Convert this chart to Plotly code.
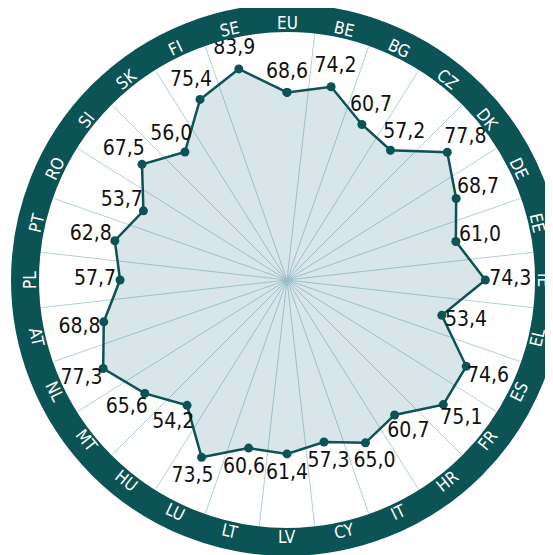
import math
import plotly.graph_objects as go

countries = ["EU", "BE", "BG", "CZ", "DK", "DE", "EE", "IE", "EL", "ES",
             "FR", "HR", "IT", "CY", "LV", "LT", "LU", "HU", "MT", "NL",
             "AT", "PL", "PT", "RO", "SI", "SK", "FI", "SE"]
values = [68.6, 74.2, 60.7, 57.2, 77.8, 68.7, 61.0, 74.3, 53.4, 74.6,
          75.1, 60.7, 65.0, 57.3, 61.4, 60.6, 73.5, 54.2, 65.6, 77.3,
          68.8, 57.7, 62.8, 53.7, 67.5, 56.0, 75.4, 83.9]

TEAL = "#0b5354"
GRID = "#b3cfd6"
FONT = "DejaVu Sans Condensed, Liberation Sans Narrow, Roboto, sans-serif"

W, H = 553, 555
# the page body has an 8px margin, so positions are shifted by 8px
CX, CY = 287 - 8, H - (280 - 8)   # centre in px (y from bottom)
R_PLOT = 247               # radius of the polar area
R_MIN, R_MAX = -30.5, 100
R_RING = 262
R_LABEL = 257
px_per_unit = R_PLOT / (R_MAX - R_MIN)
n = len(countries)
step = 360 / n

# label offsets: push value labels radially outward a few px
label_r = []
for i, v in enumerate(values):
    phi = math.radians(i * step)
    pad = math.hypot(25 * math.sin(phi), 20 * math.cos(phi))
    label_r.append(v + pad / px_per_unit)

fig = go.Figure()

# dummy trace so the grid subplot renders
fig.add_trace(go.Scatterpolar(r=[R_MIN], theta=[0], mode="markers",
                              marker=dict(size=0.1, color="rgba(0,0,0,0)"),
                              hoverinfo="skip", showlegend=False, subplot="polar"))

fig.add_trace(go.Scatterpolar(
    r=values + values[:1], theta=countries + countries[:1],
    mode="lines+markers", fill="toself",
    fillcolor="rgba(58,130,150,0.2)",
    line=dict(color=TEAL, width=2.5),
    marker=dict(color=TEAL, size=9),
    showlegend=False, subplot="polar2",
))

fig.add_trace(go.Scatterpolar(
    r=label_r, theta=countries, mode="text",
    text=[f"{v:.1f}".replace(".", ",") for v in values],
    textfont=dict(family=FONT, size=21, color="#111111"),
    showlegend=False, hoverinfo="skip", subplot="polar2",
))

domain = dict(x=[(CX - R_PLOT) / W, (CX + R_PLOT) / W],
              y=[(CY - R_PLOT) / H, (CY + R_PLOT) / H])

fig.update_layout(
    width=W, height=H,
    margin=dict(l=0, r=0, t=0, b=0),
    paper_bgcolor="white",
    polar=dict(
        domain=domain, bgcolor="white",
        radialaxis=dict(range=[R_MIN, R_MAX], visible=False),
        angularaxis=dict(type="linear", thetaunit="degrees", direction="clockwise",
                         rotation=90, tickmode="linear", tick0=step / 2, dtick=step,
                         showgrid=True, gridcolor=GRID, gridwidth=1,
                         showticklabels=False, ticks="", showline=False),
    ),
    polar2=dict(
        domain=domain, bgcolor="rgba(0,0,0,0)",
        radialaxis=dict(range=[R_MIN, R_MAX], visible=False),
        angularaxis=dict(type="category", categoryarray=countries,
                         direction="clockwise", rotation=90,
                         showgrid=False, showticklabels=False, ticks="", showline=False),
    ),
)

# dark ring around the chart
fig.add_shape(type="circle", xref="paper", yref="paper",
              x0=(CX - R_RING) / W, x1=(CX + R_RING) / W,
              y0=(CY - R_RING) / H, y1=(CY + R_RING) / H,
              line=dict(color=TEAL, width=28), fillcolor="rgba(0,0,0,0)", layer="above")

# country labels inside the ring, rotated along the circle
for i, c in enumerate(countries):
    phi = i * step
    x = CX + R_LABEL * math.sin(math.radians(phi))
    y = CY + R_LABEL * math.cos(math.radians(phi))
    if 90 < phi < 270:
        ang = phi - 180
    elif phi >= 270:
        ang = phi - 360
    else:
        ang = phi
    fig.add_annotation(x=x / W, y=y / H, xref="paper", yref="paper",
                       text=c, showarrow=False, textangle=ang,
                       font=dict(family=FONT, size=17, color="white"),
                       xanchor="center", yanchor="middle")

fig.write_html("out.html")
